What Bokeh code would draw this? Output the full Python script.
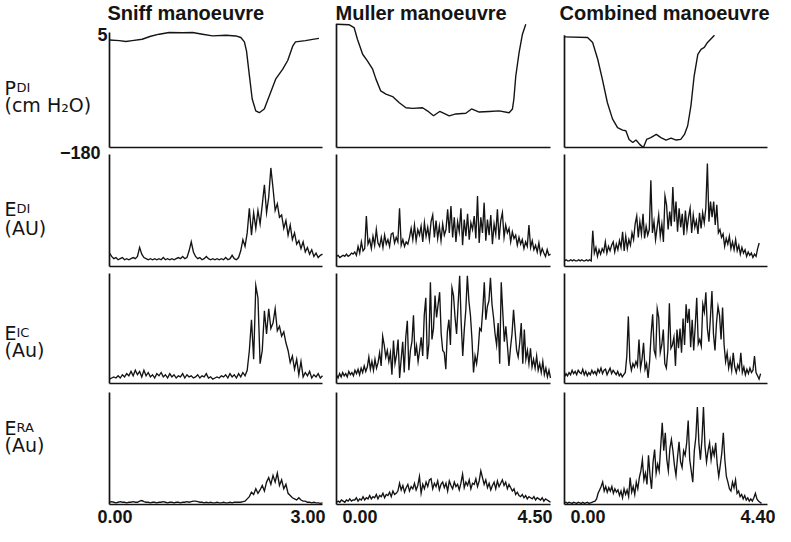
import numpy as np
from bokeh.plotting import figure
from bokeh.models import Range1d, Label
from bokeh.embed import file_html
from bokeh.resources import INLINE

# ---------------- data ----------------
manoeuvres = ["Sniff manoeuvre", "Muller manoeuvre", "Combined manoeuvre"]
durations = [3.00, 4.50, 4.40]
x_tick_labels = [("0.00", "3.00"), ("0.00", "4.50"), ("0.00", "4.40")]
pdi_ticks = ["5", "\u2212180"]
pdi_min, pdi_max = -180, 5

# Pdi (cm H2O)
sniff_p_t = [0.00, 0.14, 0.23, 0.32, 0.46, 0.58, 0.70, 0.84, 1.03, 1.17, 1.31, 1.45, 1.64, 1.78, 1.85, 1.90,
             1.93, 1.97, 2.01, 2.06, 2.11, 2.18, 2.25, 2.34, 2.44, 2.51, 2.58, 2.62, 2.76, 2.86, 2.95]
sniff_p_v = [-7, -8, -9.5, -8, -5.8, -1, 2.3, 5, 4.5, 5, 2.3, -0.4, 0.7, -0.5, -3, -10,
             -25, -64, -102, -121, -124, -118, -97, -70, -54, -40, -17, -10, -8, -6, -4.5]
muller_p_t = [0.00, 0.27, 0.37, 0.44, 0.55, 0.65, 0.76, 0.83, 0.93, 1.04, 1.18, 1.32, 1.46, 1.60, 1.81, 1.91,
              2.04, 2.17, 2.26, 2.37, 2.51, 2.72, 2.84, 3.00, 3.21, 3.42, 3.63, 3.70, 3.73, 3.77, 3.84, 3.91, 3.98]
muller_p_v = [18.4, 17.4, 13, -5.8, -30, -40.5, -54, -70, -89, -94, -98, -108, -116, -117, -116, -121,
              -129, -122, -125, -129, -126, -125, -118, -123, -122, -121, -124, -118, -102, -65, -27, 2.3, 18.4]
combined_p_t = [0.00, 0.50, 0.61, 0.72, 0.82, 0.93, 1.04, 1.15, 1.26, 1.33, 1.40, 1.48, 1.55, 1.63, 1.71, 1.78,
                1.87, 1.99, 2.09, 2.20, 2.31, 2.42, 2.52, 2.60, 2.67, 2.74, 2.81, 2.89, 2.96, 3.03, 3.10, 3.25]
combined_p_v = [-2, -3, -11, -38, -70, -108, -134, -148, -152, -153, -167, -172, -168, -175, -180, -167,
                -164, -159, -164, -168, -165, -168, -167, -159, -145, -113, -65, -30, -22, -19, -11, 0.7]

# Edi (AU), 0-100 of panel height
sniff_edi = [12, 9, 7, 8, 6, 7, 8, 6, 7, 6,
             7, 8, 7, 9, 17, 11, 8, 7, 6, 7,
             6, 7, 6, 7, 6, 8, 6, 7, 6, 7,
             6, 7, 8, 7, 9, 7, 8, 14, 22, 13,
             9, 7, 8, 6, 7, 9, 7, 6, 7, 6,
             7, 6, 7, 6, 8, 6, 7, 10, 7, 6,
             8, 14, 24, 18, 30, 52, 28, 48, 34, 50,
             38, 55, 73, 48, 62, 88, 70, 50, 56, 44,
             46, 34, 41, 28, 37, 24, 30, 20, 23, 16,
             22, 13, 17, 11, 15, 9, 12, 8, 10, 11]
muller_edi = [9, 10, 8, 9, 10, 9, 11, 9, 10, 12,
              11, 13, 10, 18, 12, 22, 14, 16, 45, 20,
              24, 16, 27, 19, 33, 21, 18, 26, 17, 28,
              20, 24, 18, 29, 30, 21, 26, 22, 52, 19,
              24, 18, 22, 20, 26, 34, 24, 37, 23, 33,
              28, 36, 22, 39, 27, 35, 24, 40, 46, 26,
              41, 25, 36, 23, 38, 28, 33, 51, 30, 54,
              26, 44, 22, 40, 31, 52, 19, 42, 27, 47,
              24, 39, 33, 45, 25, 63, 21, 44, 30, 57,
              23, 42, 28, 46, 20, 38, 29, 51, 24, 41,
              48, 26, 37, 30, 34, 22, 31, 25, 28, 19,
              26, 20, 24, 16, 22, 18, 37, 17, 23, 15,
              19, 13, 21, 11, 16, 12, 9, 15, 10, 11]
combined_edi = [5, 6, 5, 5, 6, 5, 6, 5, 5, 6,
                5, 6, 5, 5, 6, 5, 6, 5, 32, 12,
                17, 9, 15, 11, 16, 13, 22, 12, 18, 14,
                19, 22, 13, 20, 15, 23, 17, 31, 14, 27,
                16, 24, 19, 30, 24, 38, 45, 26, 40, 29,
                47, 25, 36, 28, 33, 77, 30, 40, 24, 35,
                46, 27, 38, 22, 63, 55, 33, 49, 36, 71,
                40, 58, 31, 52, 35, 47, 28, 50, 33, 44,
                52, 30, 46, 35, 41, 29, 48, 34, 48, 39,
                52, 92, 40, 58, 44, 58, 37, 55, 30, 33,
                26, 29, 18, 25, 20, 27, 16, 22, 15, 24,
                14, 19, 11, 17, 12, 15, 9, 13, 10, 12,
                8, 11, 9, 16, 21]

# Eic (Au)
sniff_eic = [4, 5, 6, 5, 7, 5, 8, 6, 9, 7,
             11, 7, 12, 8, 11, 6, 12, 7, 10, 6,
             8, 5, 9, 7, 10, 6, 8, 5, 9, 6,
             8, 5, 7, 6, 9, 5, 8, 6, 7, 5,
             6, 8, 5, 7, 6, 9, 5, 6, 4, 5,
             6, 5, 7, 6, 8, 5, 9, 6, 8, 5,
             9, 6, 10, 7, 12, 30, 58, 22, 89, 78,
             18, 30, 66, 45, 68, 50, 55, 68, 48, 52,
             43, 47, 37, 30, 19, 25, 13, 22, 8, 20,
             6, 10, 7, 11, 5, 8, 6, 9, 5, 7]
muller_eic = [8, 5, 9, 6, 10, 7, 9, 6, 11, 8,
              10, 7, 12, 9, 13, 8, 14, 10, 16, 11,
              15, 24, 13, 20, 12, 22, 14, 19, 28, 16,
              43, 35, 24, 30, 20, 28, 8, 39, 18, 26,
              40, 5, 22, 38, 10, 42, 57, 12, 30, 38,
              62, 25, 34, 20, 30, 42, 25, 62, 78, 22,
              36, 92, 40, 50, 80, 60, 72, 83, 45, 30,
              28, 13, 47, 58, 35, 87, 80, 60, 45, 72,
              98, 55, 25, 49, 67, 98, 75, 62, 40, 10,
              25, 18, 30, 50, 48, 67, 92, 58, 70, 75,
              96, 72, 60, 45, 35, 55, 18, 92, 65, 38,
              52, 35, 16, 32, 45, 67, 48, 30, 24, 37,
              55, 18, 49, 22, 30, 18, 32, 15, 22, 14,
              25, 12, 18, 10, 20, 8, 14, 6, 12, 5]
combined_eic = [6, 9, 7, 10, 8, 12, 9, 11, 8, 12,
                10, 9, 13, 8, 11, 7, 10, 8, 12, 9,
                11, 8, 13, 10, 14, 9, 12, 13, 8, 11,
                14, 9, 12, 10, 8, 11, 7, 9, 6, 8,
                10, 25, 61, 20, 12, 18, 15, 20, 16, 40,
                14, 22, 37, 13, 18, 5, 20, 45, 63, 30,
                25, 68, 60, 28, 35, 49, 18, 14, 30, 73,
                32, 35, 42, 16, 49, 32, 50, 28, 59, 35,
                72, 55, 68, 33, 58, 30, 52, 78, 36, 40,
                34, 72, 65, 83, 50, 38, 60, 84, 45, 30,
                55, 70, 62, 40, 69, 35, 20, 28, 14, 22,
                12, 28, 15, 10, 17, 13, 28, 10, 15, 8,
                13, 9, 14, 10, 12, 25, 10, 7, 4, 9]

# Era (Au)
sniff_era = [2, 2.5, 2, 1.5, 2, 2.5, 2, 2, 1.5, 2,
             2, 2.5, 2, 2, 3, 3.5, 2.5, 2, 2, 1.5,
             2, 2, 1.5, 2, 2, 2.5, 2, 1.5, 2, 2,
             1.5, 2, 2, 1.5, 2, 2, 2.5, 2, 2.5, 3,
             3, 2.5, 2, 2, 1.5, 2, 1.5, 2, 1.5, 1.5,
             2, 1.5, 1.5, 2, 1.5, 1.5, 2, 1.5, 2, 2,
             2, 2, 2.5, 3, 5, 7, 11, 9, 14, 10,
             13, 17, 12, 20, 24, 18, 26, 20, 28, 17,
             22, 14, 18, 10, 8, 6, 5, 4, 6, 4,
             3, 3, 2, 2, 1.5, 2, 1.5, 1.5, 1, 1.5]
muller_era = [2,
              3, 2, 4, 3, 2, 4, 3, 5, 3, 4,
              4, 6, 3, 5, 4, 7, 4, 6, 5, 8,
              5, 7, 6, 9, 5, 8, 7, 10, 6, 9,
              8, 11, 7, 12, 9, 10, 12,
              19,
              13, 17, 11, 15, 18, 12, 16, 14, 19, 13, 17,
              25,
              10, 18, 14, 20, 16,
              22,
              23, 14, 19, 16, 21, 13, 18, 20, 15, 19, 12, 21, 17, 14, 20, 16, 18, 13, 19,
              27,
              15, 20, 17, 22, 14, 19, 18, 23, 16, 21,
              30,
              24, 18, 22, 15, 19, 13, 17, 20, 14, 21, 16, 19,
              22,
              17, 20, 14, 18, 15, 12, 14, 9, 11, 8,
              7, 9, 6, 8, 5, 7, 6, 5, 7, 4, 6, 5, 4, 6, 3, 5, 4, 3, 2]
combined_era = [1.5, 2, 1, 2, 1.5, 1, 2, 1.5, 1, 2, 1.5, 1, 2, 1, 1.5, 2, 1, 1.5, 2, 2.5, 3,
                5, 10, 13, 16, 20, 12, 16, 11, 15,
                12, 16, 10, 14, 11, 13, 8, 12, 6, 14,
                9, 13, 7, 24, 11, 16, 9, 20, 14, 24,
                30, 40, 22, 28, 18, 44, 26, 14, 38, 49,
                28, 36, 30, 52, 73, 48, 64, 40, 30, 50,
                58, 48, 35, 26, 42, 56, 38, 33, 48, 44,
                55, 75, 40, 30, 20, 48, 60, 87, 55, 40,
                58, 87, 52, 38, 48, 55, 40, 50, 44, 55,
                36, 25, 35, 46, 64, 40, 25, 20, 14, 12,
                20, 15, 22, 10, 12, 7, 9, 5, 8, 4,
                6, 3, 5, 3, 6, 10, 5, 3, 2, 1]

# recording end time of each EMG trace (s)
emg_end = [[3.00, 4.50, 4.22], [3.00, 4.50, 4.25], [3.00, 4.50, 4.27]]

# ---------------- layout ----------------
W, H = 775, 526
INK = "#141414"

p = figure(width=W, height=H, x_range=Range1d(0, W), y_range=Range1d(0, H),
           output_backend="svg", toolbar_location=None, min_border=0,
           x_axis_location=None, y_axis_location=None)
p.grid.visible = False
p.outline_line_color = None
p.background_fill_color = "white"
p.border_fill_color = "white"


def Y(ly):
    return H - ly


col_px = [(109, 322), (336, 550), (564, 767)]
row_px = [(23, 147), (154, 266), (273, 383), (392, 504)]

pdi_top = 19.5                     # value at the top of the first-row panels
pdi_axis_top = [5, 19, 0.5]        # where each Pdi panel's left line ends

pressure = [(sniff_p_t, sniff_p_v), (muller_p_t, muller_p_v), (combined_p_t, combined_p_v)]
emg_rows = [[sniff_edi, muller_edi, combined_edi],
            [sniff_eic, muller_eic, combined_eic],
            [sniff_era, muller_era, combined_era]]

for c, (x0, x1) in enumerate(col_px):
    T = durations[c]
    # pressure row
    ly0, ly1 = row_px[0]
    sub = p.subplot(x_source=Range1d(0, T), y_source=Range1d(pdi_min, pdi_top),
                    x_target=Range1d(x0, x1), y_target=Range1d(Y(ly1), Y(ly0)))
    sub.line([0, 0], [pdi_min, pdi_axis_top[c]], line_color=INK, line_width=1.7)
    sub.line([0, T], [pdi_min, pdi_min], line_color=INK, line_width=1.7)
    t, v = pressure[c]
    sub.line(t, v, line_color=INK, line_width=1.4)
    # EMG rows
    for r in range(3):
        ly0, ly1 = row_px[r + 1]
        sub = p.subplot(x_source=Range1d(0, T), y_source=Range1d(0, 100),
                        x_target=Range1d(x0, x1), y_target=Range1d(Y(ly1), Y(ly0)))
        sub.line([0, 0], [0, 100], line_color=INK, line_width=1.7)
        sub.line([0, T], [0, 0], line_color=INK, line_width=1.7)
        vals = emg_rows[r][c]
        tt = np.linspace(0, emg_end[r][c], len(vals))
        sub.line(tt, vals, line_color=INK, line_width=1.35, line_join="miter")

# ---------------- text ----------------
def lab(x, y, text, size, font="DejaVu Sans", style="normal", align="left", baseline="alphabetic"):
    p.add_layout(Label(x=x, y=Y(y), text=text, text_font=font, text_font_size=size,
                       text_font_style=style, text_align=align, text_baseline=baseline,
                       text_color=INK))

title_x = [107, 335, 559]
for c, name in enumerate(manoeuvres):
    lab(title_x[c], 12, name, "20px", font="Liberation Sans", style="bold", baseline="middle")

# row labels
row_main = [("P", "DI", "(cm H\u2082O)", 87, 104),
            ("E", "DI", "(AU)", 208, 227),
            ("E", "IC", "(Au)", 332, 349),
            ("E", "RA", "(Au)", 427, 444)]
for big, small, unit, b1, b2 in row_main:
    lab(4, b1, big, "19px")
    lab(16, b1, small, "13px")
    lab(4, b2, unit, "19px")

# Pdi scale
lab(107, 34, pdi_ticks[0], "18px", font="Liberation Sans", style="bold", align="right", baseline="middle")
lab(100, 152, pdi_ticks[1], "18px", font="Liberation Sans", style="bold", align="right", baseline="middle")

# time labels
tick_pos = [((97, "left"), (325, "right")), ((342, "left"), (552, "right")), ((570, "left"), (775, "right"))]
for c in range(3):
    (xl, al), (xr, ar) = tick_pos[c]
    lab(xl, 516, x_tick_labels[c][0], "18px", font="Liberation Sans", style="bold", align=al, baseline="middle")
    lab(xr, 516, x_tick_labels[c][1], "18px", font="Liberation Sans", style="bold", align=ar, baseline="middle")

open("out.html", "w").write(file_html(p, INLINE))
